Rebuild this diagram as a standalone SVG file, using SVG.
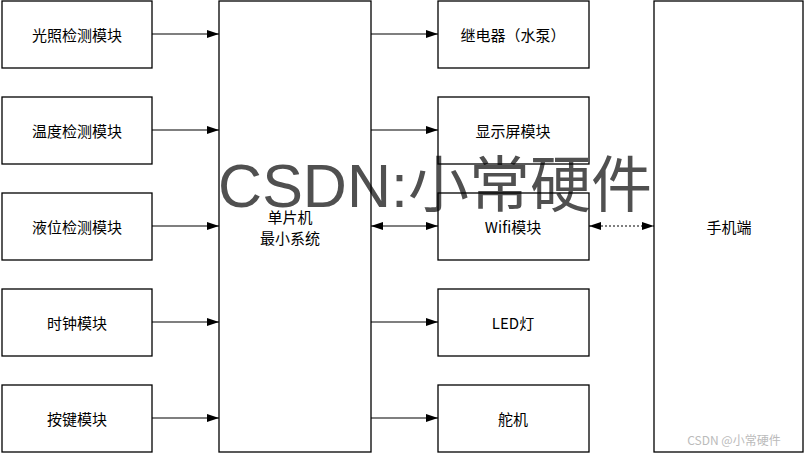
<svg xmlns="http://www.w3.org/2000/svg" width="807" height="454" viewBox="0 0 807 454">
<style>
.box{fill:none;stroke:#000;stroke-width:1.3}
.t{font-family:"Noto Sans CJK SC","Liberation Sans",sans-serif;font-size:15px;fill:#000;text-anchor:middle;dominant-baseline:central}
.c{stroke:#000;stroke-width:1.2;fill:none}
.d{stroke:#000;stroke-width:1.2;fill:none;stroke-dasharray:2 2}
</style>
<defs>
<marker id="ah" markerWidth="12" markerHeight="8" refX="12" refY="4" orient="auto" markerUnits="userSpaceOnUse">
<path d="M0,0 L12,4 L0,8 Z" fill="#000"/>
</marker>
<marker id="as" markerWidth="12" markerHeight="8" refX="0" refY="4" orient="auto" markerUnits="userSpaceOnUse">
<path d="M12,0 L0,4 L12,8 Z" fill="#000"/>
</marker>
</defs>
<rect width="807" height="454" fill="#fff"/>
<text x="435" y="186" font-family="'Liberation Sans','Noto Sans CJK SC',sans-serif" font-size="61" fill="#505050" text-anchor="middle" dominant-baseline="central">CSDN:小常硬件</text>
<g id="n1"><rect class="box" x="2" y="1" width="150" height="67"/><text class="t" x="77" y="34">光照检测模块</text></g>
<g id="n2"><rect class="box" x="2" y="97" width="150" height="67"/><text class="t" x="77" y="130">温度检测模块</text></g>
<g id="n3"><rect class="box" x="2" y="193" width="150" height="67"/><text class="t" x="77" y="226">液位检测模块</text></g>
<g id="n4"><rect class="box" x="2" y="289" width="150" height="67"/><text class="t" x="77" y="322">时钟模块</text></g>
<g id="n5"><rect class="box" x="2" y="385" width="150" height="67"/><text class="t" x="77" y="418">按键模块</text></g>
<g id="mcu"><rect class="box" x="219" y="1" width="152" height="451"/><text class="t" x="290" y="216">单片机</text><text class="t" x="290" y="237">最小系统</text></g>
<g id="r1"><rect class="box" x="438" y="1" width="151" height="67"/><text class="t" x="513" y="34">继电器（水泵）</text></g>
<g id="r2"><rect class="box" x="438" y="97" width="151" height="67"/><text class="t" x="513" y="130">显示屏模块</text></g>
<g id="r3"><rect class="box" x="438" y="193" width="151" height="67"/><text class="t" x="513" y="226">Wifi模块</text></g>
<g id="r4"><rect class="box" x="438" y="289" width="151" height="67"/><text class="t" x="513" y="322">LED灯</text></g>
<g id="r5"><rect class="box" x="438" y="385" width="151" height="67"/><text class="t" x="513" y="418">舵机</text></g>
<g id="phone"><rect class="box" x="654" y="1" width="149" height="451"/><text class="t" x="729" y="226">手机端</text></g>
<g id="connectors">
<line class="c" x1="152" y1="34" x2="219" y2="34" marker-end="url(#ah)"/>
<line class="c" x1="152" y1="130" x2="219" y2="130" marker-end="url(#ah)"/>
<line class="c" x1="152" y1="226" x2="219" y2="226" marker-end="url(#ah)"/>
<line class="c" x1="152" y1="322" x2="219" y2="322" marker-end="url(#ah)"/>
<line class="c" x1="152" y1="418" x2="219" y2="418" marker-end="url(#ah)"/>
<line class="c" x1="371" y1="34" x2="438" y2="34" marker-end="url(#ah)"/>
<line class="c" x1="371" y1="130" x2="438" y2="130" marker-end="url(#ah)"/>
<line class="c" x1="371" y1="226" x2="438" y2="226" marker-start="url(#as)" marker-end="url(#ah)"/>
<line class="c" x1="371" y1="322" x2="438" y2="322" marker-end="url(#ah)"/>
<line class="c" x1="371" y1="418" x2="438" y2="418" marker-end="url(#ah)"/>
<line class="d" x1="589" y1="226" x2="654" y2="226" marker-start="url(#as)" marker-end="url(#ah)"/>
</g>
<text x="734" y="439" font-family="'Noto Sans CJK SC','Liberation Sans',sans-serif" font-size="12" fill="#bbb" text-anchor="middle" dominant-baseline="central">CSDN @小常硬件</text>
</svg>
